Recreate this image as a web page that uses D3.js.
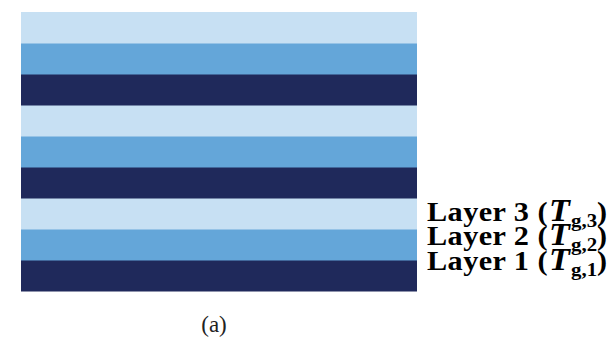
<!DOCTYPE html>
<html>
<head>
<meta charset="utf-8">
<script src="https://cdn.jsdelivr.net/npm/d3@7"></script>
<style>
  html, body { margin: 0; padding: 0; background: #fff; }
  svg { display: block; }
</style>
</head>
<body>
<script>
// Stack of repeated layers, listed bottom to top
const layerIds = [1, 2, 3];
const repeats = [1, 2, 3];
const layerColors = ["#1f295b", "#64a6d9", "#c7e0f3"];
const labelLayers = [3, 2, 1];
const panelLabel = "(a)";

const W = 610, H = 337;
const svg = d3.select("body").append("svg").attr("width", W).attr("height", H);

// Build the stripe sequence (bottom -> top)
const stripes = [];
repeats.forEach(r => layerIds.forEach(l => stripes.push({ key: r + "-" + l, layer: l })));

const y = d3.scaleBand()
  .domain(stripes.map(d => d.key).reverse())
  .range([12, 291])
  .paddingInner(0);
const x = d3.scaleLinear().domain([0, 1]).range([21, 417]);
const color = d3.scaleOrdinal().domain(layerIds).range(layerColors);

svg.append("g").selectAll("rect")
  .data(stripes)
  .join("rect")
  .attr("x", x(0))
  .attr("width", x(1) - x(0))
  .attr("y", d => y(d.key))
  .attr("height", y.bandwidth() + 0.5)
  .attr("fill", d => color(d.layer));

// Layer labels on the right (slightly widened serif type)
const labelY = d3.scalePoint().domain(labelLayers).range([221, 270]);
const lx = 427, sx = 1.1;

const lab = svg.append("g")
  .attr("transform", `translate(${lx},0) scale(${sx},1) translate(${-lx},0)`)
  .selectAll("text")
  .data(labelLayers)
  .join("text")
  .attr("x", lx)
  .attr("y", d => labelY(d))
  .style("font-family", "'Liberation Serif', 'Times New Roman', serif")
  .attr("font-weight", "bold")
  .attr("font-size", 27.5)
  .attr("fill", "#000");

lab.each(function(d) {
  const t = d3.select(this);
  t.append("tspan").attr("letter-spacing", 0.4).text("Layer " + d + " (");
  t.append("tspan").attr("dx", 1).attr("font-style", "italic").attr("font-size", 31).text("T");
  t.append("tspan").attr("font-size", 19).attr("dx", 1).attr("dy", 6).text("g," + d);
  t.append("tspan").attr("dy", -6).text(")");
});

// Panel caption
svg.append("text")
  .attr("x", 214)
  .attr("y", 332)
  .attr("text-anchor", "middle")
  .style("font-family", "'Liberation Serif', 'Times New Roman', serif")
  .attr("font-size", 23)
  .attr("fill", "#222")
  .text(panelLabel);
</script>
</body>
</html>
